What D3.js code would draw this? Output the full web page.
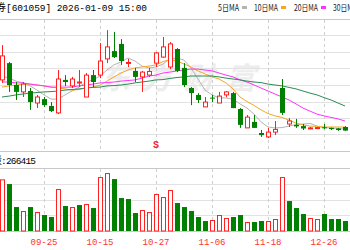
<!DOCTYPE html>
<html lang="zh">
<head>
<meta charset="UTF-8" />
<title>601059 日K线</title>
<script src="https://d3js.org/d3.v7.min.js"></script>
<style>
  body { margin: 0; background: #fff; }
  svg { display: block; }
  .mono { font-family: 'Liberation Mono', 'DejaVu Sans Mono', monospace; }
  .cjk { font-family: 'Noto Sans CJK SC', sans-serif; }
</style>
</head>
<body>
<div id="chart"></div>
<script>
// daily candles, oldest first
const opens  = [18.37,18.93,18.20,17.97,18.00,17.60,17.73,17.50,17.27,18.37,
                18.17,18.27,17.80,18.53,18.53,19.07,19.33,19.57,18.93,18.67,
                18.47,18.53,18.93,19.13,18.80,19.40,18.77,18.10,17.87,17.47,
                17.78,17.60,17.87,17.93,17.40,16.77,16.97,16.60,16.47,16.63,
                18.10,16.90,16.87,16.83,16.75,16.76,16.79,16.77,16.75,16.80];
const closes = [19.17,18.20,17.97,18.23,17.63,17.80,17.53,17.33,18.40,18.30,
                18.40,18.30,18.53,18.30,19.00,19.47,19.13,19.00,18.95,18.47,
                18.63,18.65,19.27,19.47,19.57,18.67,18.20,17.93,17.70,17.63,
                17.77,17.83,17.97,17.43,16.87,17.13,16.77,16.53,16.63,16.72,
                17.27,17.00,16.82,16.75,16.77,16.78,16.77,16.73,16.70,16.68];
const highs  = [19.53,18.97,18.30,18.30,18.10,17.87,17.80,17.63,18.70,18.53,
                18.47,18.70,18.60,18.70,19.60,20.03,19.97,19.73,19.07,18.77,
                18.67,18.77,19.30,19.80,19.63,19.43,18.93,18.13,17.93,17.80,
                17.87,17.97,18.00,17.97,17.43,17.20,17.20,16.70,16.77,17.00,
                18.40,17.10,17.07,16.90,16.80,16.80,16.90,16.78,16.77,16.83];
const lows   = [18.27,17.97,17.70,17.80,17.37,17.43,17.47,17.30,17.23,18.17,
                18.10,18.13,17.80,18.13,18.43,18.93,19.10,18.87,18.80,18.30,
                17.97,18.47,18.80,19.10,18.73,18.63,18.13,17.53,17.60,17.47,
                17.63,17.60,17.80,17.43,16.77,16.77,16.77,16.47,16.43,16.53,
                17.20,16.80,16.77,16.70,16.73,16.73,16.73,16.70,16.67,16.67];
const prevClose = 18.90;
const volumes = [1377000,1252000,639000,533000,639000,506000,426000,373000,1119000,666000,
                 639000,693000,719000,613000,1439000,1545000,1385000,879000,852000,480000,
                 559000,506000,986000,906000,1092000,746000,639000,533000,373000,266000,
                 293000,426000,346000,373000,426000,240000,240000,266000,266000,320000,
                 1439000,799000,613000,453000,346000,320000,453000,320000,320000,266415];

const ma5  = [18.50,18.43,18.33,18.27,18.17,18.03,17.87,17.73,17.73,17.87,
              18.00,18.13,18.30,18.37,18.50,18.70,18.87,18.97,19.10,19.00,
              18.83,18.77,18.80,18.90,19.07,19.10,19.03,18.77,18.40,18.03,
              17.87,17.77,17.77,17.73,17.57,17.43,17.23,16.97,16.80,16.77,
              16.78,16.83,16.88,16.90,16.92,16.83,16.78,16.77,16.75,16.73];
const ma10 = [18.13,18.17,18.20,18.23,18.23,18.20,18.17,18.13,18.10,18.07,
              18.03,18.05,18.10,18.13,18.20,18.33,18.47,18.60,18.70,18.77,
              18.80,18.83,18.87,18.98,19.05,19.00,18.90,18.80,18.67,18.57,
              18.47,18.40,18.27,18.07,17.80,17.65,17.52,17.37,17.25,17.17,
              17.12,17.03,16.93,16.87,16.83,16.82,16.80,16.80,16.80,16.80];
const ma20 = [18.30,18.30,18.27,18.27,18.23,18.20,18.17,18.13,18.13,18.13,
              18.13,18.17,18.20,18.23,18.27,18.28,18.30,18.33,18.35,18.37,
              18.43,18.50,18.53,18.60,18.63,18.67,18.70,18.73,18.73,18.70,
              18.67,18.60,18.53,18.47,18.37,18.30,18.20,18.10,18.00,17.90,
              17.80,17.70,17.57,17.43,17.33,17.23,17.17,17.12,17.07,17.00];
const ma30 = [17.80,17.83,17.87,17.90,17.93,17.95,17.97,17.98,18.00,18.03,
              18.05,18.07,18.10,18.12,18.13,18.17,18.18,18.20,18.23,18.27,
              18.30,18.33,18.37,18.38,18.42,18.45,18.47,18.50,18.50,18.50,
              18.50,18.47,18.43,18.40,18.37,18.33,18.30,18.28,18.23,18.20,
              18.17,18.12,18.07,18.00,17.93,17.87,17.78,17.70,17.60,17.50];

const tickIdx    = [6, 14, 22, 30, 38, 46];
const tickLabels = ['09-25', '10-15', '10-27', '11-06', '11-18', '12-26'];
const signIdx    = [22];
const signText   = ['S'];

const maNames  = ['5日MA', '10日MA', '20日MA', '30日MA'];
const maColors = ['#b4b4b4', '#f5a623', '#ff33ff', '#2e8b57'];

const W = 350, H = 250;
const svg = d3.select('#chart').append('svg').attr('width', W).attr('height', H);

const x  = d3.scaleLinear().domain([0, 49]).range([2, 345]);
const y  = d3.scaleLinear().domain([16, 20.4]).range([151, 19]);
const yv = d3.scaleLinear().domain([0, 1680000]).range([231, 168]);
const px = v => Math.round(v) + 0.5;

// watermark
svg.append('text')
  .attr('class', 'cjk')
  .attr('x', 100).attr('y', 89)
  .attr('textLength', 156)
  .attr('font-size', 30).attr('font-weight', 'bold').attr('font-style', 'italic')
  .attr('fill', '#ededed')
  .text('东方财富');

// horizontal grid
const priceGrid = d3.range(0, 9).map(k => 16 + k * 0.55);
svg.append('g').selectAll('line').data(priceGrid).join('line')
  .attr('x1', 0).attr('x2', W)
  .attr('y1', d => px(y(d))).attr('y2', d => px(y(d)))
  .attr('stroke', (d, i) => (i === 0 || i === 8) ? '#c8c8c8' : '#e2e2e2');

const volGrid = d3.range(0, 5).map(k => k * 420000);
svg.append('g').selectAll('line').data(volGrid).join('line')
  .attr('x1', 0).attr('x2', W)
  .attr('y1', d => px(yv(d))).attr('y2', d => px(yv(d)))
  .attr('stroke', (d, i) => (i === 0 || i === 4) ? '#c8c8c8' : '#e2e2e2');

// vertical dashed grid
[[y(20.4), y(16)], [yv(1680000), yv(0)]].forEach(([a, b]) => {
  svg.append('g').selectAll('line').data(tickIdx).join('line')
    .attr('x1', d => px(x(d))).attr('x2', d => px(x(d)))
    .attr('y1', a + 1).attr('y2', b)
    .attr('stroke', '#cfcfcf')
    .attr('stroke-dasharray', '3,3');
});

// moving averages
const line = d3.line().x((d, i) => x(i)).y(d => y(d));
[ma5, ma10, ma20, ma30].forEach((s, k) => {
  svg.append('path')
    .attr('d', line(s))
    .attr('fill', 'none')
    .attr('stroke', maColors[k])
    .attr('stroke-width', 1);
});

// candles
const idx = d3.range(opens.length);
const RED = '#ff2020', GREEN = '#008000';
const up = i => closes[i] >= opens[i];
const cg = svg.append('g');
cg.selectAll('line').data(idx).join('line')
  .attr('x1', i => px(x(i))).attr('x2', i => px(x(i)))
  .attr('y1', i => y(highs[i])).attr('y2', i => y(lows[i]))
  .attr('stroke', i => up(i) ? RED : GREEN);
cg.selectAll('rect').data(idx).join('rect')
  .attr('x', i => up(i) ? Math.round(x(i)) - 1.5 : Math.round(x(i)) - 2)
  .attr('width', i => up(i) ? 4 : 5)
  .attr('y', i => y(Math.max(opens[i], closes[i])))
  .attr('height', i => Math.max(1, Math.abs(y(opens[i]) - y(closes[i]))))
  .attr('fill', i => up(i) ? '#fff' : GREEN)
  .attr('stroke', i => up(i) ? RED : 'none');

// volume bars, coloured against previous close
const volUp = i => closes[i] >= (i === 0 ? prevClose : closes[i - 1]);
svg.append('g').selectAll('rect').data(idx).join('rect')
  .attr('x', i => volUp(i) ? Math.round(x(i)) - 1.5 : Math.round(x(i)) - 2)
  .attr('width', i => volUp(i) ? 4 : 5)
  .attr('y', i => yv(volumes[i]) + (volUp(i) ? 0.5 : 0))
  .attr('height', i => yv(0) - yv(volumes[i]) - (volUp(i) ? 0.5 : 0))
  .attr('fill', i => volUp(i) ? '#fff' : GREEN)
  .attr('stroke', i => volUp(i) ? RED : 'none');

// sell marker
svg.append('g').selectAll('text').data(signIdx).join('text')
  .attr('class', 'mono')
  .attr('x', d => x(d)).attr('y', 148)
  .attr('text-anchor', 'middle')
  .attr('font-size', 10).attr('font-weight', 'bold')
  .attr('fill', RED)
  .text((d, i) => signText[i]);

// x labels
svg.append('g').selectAll('text').data(tickIdx).join('text')
  .attr('class', 'mono')
  .attr('x', d => x(d)).attr('y', 244.5)
  .attr('text-anchor', 'middle')
  .attr('font-size', 9)
  .attr('fill', '#ff3030')
  .text((d, i) => tickLabels[i]);

// title
svg.append('text').attr('class', 'cjk')
  .attr('x', 6).attr('y', 10.5).attr('text-anchor', 'end')
  .attr('font-size', 10).attr('fill', '#000')
  .text('信达证券');
svg.append('text').attr('class', 'mono')
  .attr('x', 6).attr('y', 10.5)
  .attr('font-size', 9.5).attr('fill', '#000')
  .attr('textLength', 141)
  .text('[601059] 2026-01-09 15:00');

// legend
const legX = [218, 254, 294, 333];
const legW = [21, 24, 24, 24];
const leg = svg.append('g');
maNames.forEach((n, k) => {
  leg.append('text').attr('class', 'cjk')
    .attr('x', legX[k]).attr('y', 10.5)
    .attr('font-size', 8.5).attr('fill', '#222')
    .attr('textLength', legW[k]).attr('lengthAdjust', 'spacingAndGlyphs')
    .text(n);
  leg.append('rect')
    .attr('x', legX[k] + legW[k] + 3).attr('y', 6)
    .attr('width', 5).attr('height', 3)
    .attr('fill', maColors[k]);
});

// volume label
svg.append('text').attr('class', 'cjk')
  .attr('x', 2).attr('y', 164).attr('text-anchor', 'end')
  .attr('font-size', 10).attr('fill', '#000')
  .text('量');
svg.append('text').attr('class', 'mono')
  .attr('x', 1).attr('y', 164)
  .attr('font-size', 9.5).attr('fill', '#000')
  .attr('textLength', 35)
  .text(':266415');
</script>
</body>
</html>
